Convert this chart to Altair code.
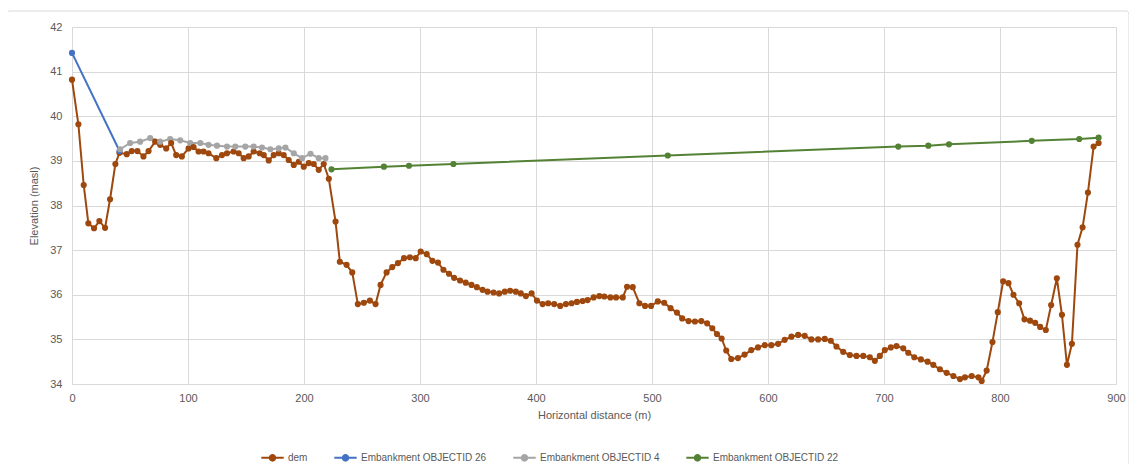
import altair as alt
import pandas as pd

SERIES = ["dem", "Embankment OBJECTID 26", "Embankment OBJECTID 4", "Embankment OBJECTID 22"]
COLORS = ["#9E480E", "#4472C4", "#A5A5A5", "#548235"]

dem_x = [0, 5.5, 10.1, 14.1, 19.0, 23.6, 28.5, 32.8, 37.4, 40.9,
         47.2, 51.5, 56.4, 61.6, 66.0, 71.7, 76.0, 81.2, 85.5, 89.8,
         94.7, 100.5, 104.8, 109.1, 113.4, 117.7, 124.4, 129.3, 133.6, 139.3,
         143.7, 148.0, 152.3, 156.6, 161.8, 165.3, 169.6, 173.9, 178.2, 182.5,
         186.8, 191.2, 195.5, 199.8, 204.1, 208.4, 212.7, 217.0, 221.4, 227.2,
         230.9, 236.7, 241.6, 246.4, 251.6, 256.8, 261.7, 266.0, 271.2, 276.1,
         281.0, 286.2, 291.3, 296.3, 300.6, 305.8, 310.7, 315.5, 320.2, 325.0,
         329.4, 334.5, 339.4, 344.4, 349.0, 353.9, 358.2, 363.4, 368.2, 373.1,
         377.7, 382.6, 386.9, 391.3, 396.2, 400.8, 405.7, 410.5, 415.7, 420.9,
         425.8, 430.7, 435.3, 440.2, 444.5, 449.7, 454.6, 458.9, 464.1, 469.0,
         474.8, 478.5, 483.4, 489.1, 494.0, 499.2, 505.0, 510.5, 516.0, 521.5,
         526.0, 531.5, 537.0, 542.5, 547.5, 552.0, 556.0, 560.0, 564.0, 568.3,
         574.1, 579.8, 585.6, 591.4, 597.1, 602.9, 608.7, 614.4, 620.2, 626.0,
         631.6, 637.4, 643.2, 648.9, 654.1, 659.0, 664.8, 670.5, 676.3, 682.1,
         687.8, 692.1, 696.4, 700.7, 705.9, 710.8, 716.6, 720.9, 726.1, 731.8,
         737.6, 742.5, 748.2, 754.0, 759.8, 765.5, 769.8, 775.6, 781.4, 784.2,
         788.5, 793.5, 798.1, 802.7, 807.3, 811.6, 816.5, 821.1, 825.9, 830.3,
         834.6, 839.5, 844.1, 849.0, 853.4, 857.7, 862.0, 866.8, 871.2, 875.8,
         880.7, 885.0]
dem_y = [40.82, 39.82, 38.46, 37.60, 37.49, 37.65, 37.50, 38.14, 38.93, 39.18,
         39.15, 39.22, 39.22, 39.10, 39.22, 39.43, 39.36, 39.28, 39.40, 39.13,
         39.10, 39.28, 39.31, 39.21, 39.21, 39.17, 39.06, 39.13, 39.17, 39.21,
         39.17, 39.06, 39.10, 39.21, 39.17, 39.13, 39.01, 39.13, 39.17, 39.13,
         39.02, 38.91, 38.98, 38.87, 38.95, 38.93, 38.80, 38.93, 38.60, 37.64,
         36.74, 36.67, 36.50, 35.79, 35.82, 35.87, 35.79, 36.22, 36.50, 36.62,
         36.71, 36.82, 36.84, 36.82, 36.97, 36.91, 36.76, 36.72, 36.56, 36.47,
         36.38, 36.32, 36.27, 36.22, 36.17, 36.11, 36.07, 36.05, 36.03, 36.07,
         36.09, 36.07, 36.03, 35.97, 36.03, 35.87, 35.79, 35.81, 35.79, 35.75,
         35.79, 35.81, 35.84, 35.86, 35.88, 35.94, 35.97, 35.96, 35.94, 35.94,
         35.94, 36.18, 36.17, 35.81, 35.75, 35.75, 35.85, 35.82, 35.70, 35.60,
         35.47, 35.41, 35.40, 35.41, 35.36, 35.25, 35.12, 35.02, 34.75, 34.56,
         34.58, 34.66, 34.76, 34.82, 34.87, 34.87, 34.90, 34.99, 35.06, 35.10,
         35.08, 35.00, 35.00, 35.01, 34.97, 34.84, 34.72, 34.65, 34.63, 34.63,
         34.60, 34.52, 34.63, 34.76, 34.82, 34.85, 34.80, 34.70, 34.60, 34.55,
         34.50, 34.43, 34.33, 34.25, 34.18, 34.11, 34.15, 34.18, 34.15, 34.07,
         34.30, 34.94, 35.61, 36.30, 36.26, 36.00, 35.81, 35.45, 35.42, 35.37,
         35.28, 35.21, 35.77, 36.37, 35.55, 34.43, 34.90, 37.12, 37.51, 38.29,
         39.32, 39.40]

emb26_x = [0, 41.0]
emb26_y = [41.42, 39.22]

emb4_x = [41.5, 50.1, 58.7, 67.4, 76.0, 84.6, 93.3, 101.9, 110.6, 117.7,
          125.0, 133.6, 140.8, 149.4, 156.6, 163.8, 171.0, 178.2, 184.0, 191.2,
          198.4, 205.6, 212.7, 218.5]
emb4_y = [39.26, 39.40, 39.43, 39.51, 39.43, 39.49, 39.46, 39.40, 39.40, 39.36,
          39.34, 39.32, 39.32, 39.32, 39.32, 39.30, 39.26, 39.28, 39.30, 39.17,
          39.06, 39.16, 39.06, 39.06]

emb22_x = [223.7, 268.9, 290.5, 328.8, 513.6, 712.3, 738.2, 756.0, 827.4, 868.3, 885.0]
emb22_y = [38.81, 38.87, 38.89, 38.93, 39.12, 39.32, 39.34, 39.37, 39.45, 39.49, 39.52]

frames = []
for name, xs, ys in [(SERIES[0], dem_x, dem_y), (SERIES[1], emb26_x, emb26_y),
                     (SERIES[2], emb4_x, emb4_y), (SERIES[3], emb22_x, emb22_y)]:
    frames.append(pd.DataFrame({"x": xs, "y": ys, "series": name}))
df = pd.concat(frames, ignore_index=True)

FONT = "Liberation Sans"
GREY = "#595959"
W, H = 1044, 357

sym = "M-1,0H1M-0.25,0A0.25,0.25,0,1,1,0.25,0A0.25,0.25,0,1,1,-0.25,0Z"

color = alt.Color(
    "series:N",
    scale=alt.Scale(domain=SERIES, range=COLORS),
    legend=alt.Legend(
        title=None, orient="none", direction="horizontal", legendX=188, legendY=418,
        symbolType=sym, symbolSize=500, symbolStrokeWidth=2,
        labelFont=FONT, labelFontSize=10, labelColor=GREY, columnPadding=22,
        labelOffset=3,
    ),
)

lines = alt.Chart(df).mark_line(
    strokeWidth=2,
    point=alt.OverlayMarkDef(filled=True, size=38, opacity=1),
).encode(
    x=alt.X("x:Q", scale=alt.Scale(domain=[0, 900], nice=False),
            axis=alt.Axis(values=list(range(0, 901, 100)), title="Horizontal distance (m)")),
    y=alt.Y("y:Q", scale=alt.Scale(domain=[34, 42], nice=False, zero=False),
            axis=alt.Axis(values=list(range(34, 43)), title="Elevation (masl)")),
    color=color,
    order=alt.Order("x:Q"),
)

border = alt.Chart(pd.DataFrame({"a": [0]})).mark_rect(
    fill=None, stroke="#d9d9d9", strokeWidth=1, cornerRadius=3, clip=False
).encode(x=alt.value(-65), x2=alt.value(1057), y=alt.value(-16), y2=alt.value(441))

chart = alt.layer(border, lines).properties(
    width=W, height=H,
    padding={"left": 64, "top": 19, "right": 13, "bottom": 80},
    autosize=alt.AutoSizeParams(type="none"),
).configure_view(stroke=None).configure_axis(
    grid=True, gridColor="#d9d9d9", gridWidth=1, ticks=False, domain=False,
    labelFont=FONT, labelFontSize=11, labelColor=GREY, labelFlush=False,
    titleFont=FONT, titleFontSize=11, titleColor=GREY, titleFontWeight="normal",
).configure_axisX(labelPadding=8, titlePadding=6, domain=True, domainColor="#d9d9d9").configure_axisY(
    labelPadding=10, titlePadding=10
)

chart.save("out.html", embed_options={"renderer": "svg", "actions": False})
